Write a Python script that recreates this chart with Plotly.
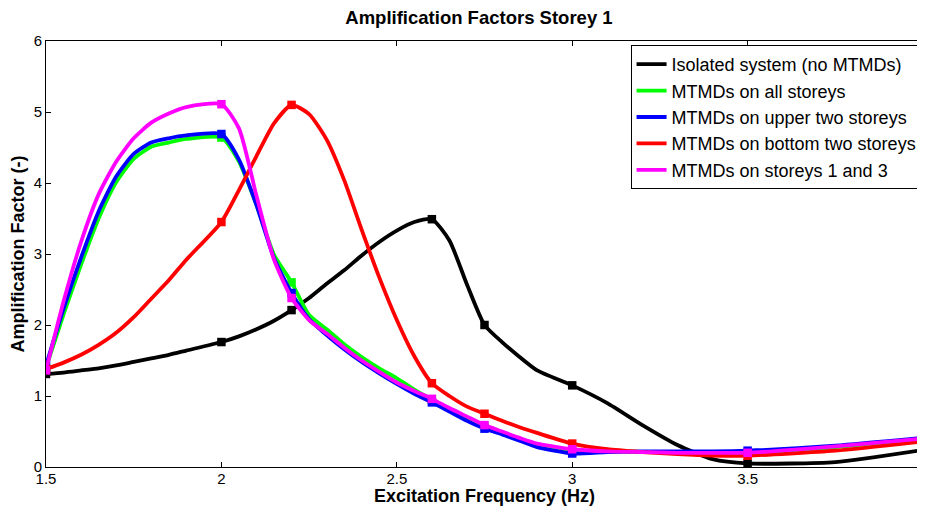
import plotly.graph_objects as go

# Excitation frequency grid (Hz)
freq = [1.5, 1.55, 1.6, 1.65, 1.7, 1.75, 1.8, 1.85, 1.9, 2.0, 2.05, 2.1, 2.15, 2.2,
        2.25, 2.3, 2.35, 2.4, 2.45, 2.5, 2.55, 2.6, 2.65, 2.7, 2.75, 2.8, 2.85, 2.9,
        3.0, 3.1, 3.2, 3.3, 3.4, 3.5, 3.75, 4.0]
# Frequencies where markers are drawn
marker_freq = [1.5, 2.0, 2.2, 2.6, 2.75, 3.0, 3.5, 4.0]

isolated = [1.31, 1.33, 1.36, 1.39, 1.43, 1.48, 1.53, 1.58, 1.64, 1.76, 1.84, 1.94, 2.06, 2.21,
            2.38, 2.58, 2.77, 2.98, 3.17, 3.33, 3.45, 3.49, 3.19, 2.57, 2.00, 1.76, 1.55, 1.36,
            1.15, 0.90, 0.59, 0.31, 0.11, 0.05, 0.07, 0.24]
mtmd_all = [1.40, 2.15, 2.85, 3.50, 4.01, 4.34, 4.51, 4.57, 4.62, 4.64, 4.30, 3.69, 2.99, 2.60,
            2.14, 1.94, 1.73, 1.55, 1.39, 1.25, 1.09, 0.95, 0.82, 0.69, 0.57, 0.49, 0.40, 0.31,
            0.21, 0.21, 0.21, 0.21, 0.20, 0.20, 0.28, 0.40]
mtmd_upper = [1.43, 2.23, 2.95, 3.60, 4.09, 4.41, 4.57, 4.63, 4.67, 4.69, 4.33, 3.69, 2.94, 2.45,
              2.08, 1.86, 1.66, 1.48, 1.32, 1.17, 1.03, 0.91, 0.78, 0.65, 0.54, 0.46, 0.37, 0.28,
              0.19, 0.21, 0.22, 0.22, 0.22, 0.23, 0.30, 0.41]
mtmd_bottom = [1.38, 1.47, 1.58, 1.72, 1.89, 2.11, 2.37, 2.63, 2.92, 3.45, 3.90, 4.38, 4.84, 5.10,
               4.97, 4.61, 4.04, 3.34, 2.67, 2.07, 1.56, 1.18, 1.00, 0.85, 0.75, 0.65, 0.56, 0.48,
               0.33, 0.25, 0.21, 0.18, 0.16, 0.16, 0.23, 0.36]
mtmd_13 = [1.36, 2.33, 3.17, 3.84, 4.30, 4.63, 4.85, 4.98, 5.07, 5.11, 4.77, 3.82, 2.92, 2.38,
           2.07, 1.88, 1.68, 1.50, 1.34, 1.19, 1.07, 0.96, 0.83, 0.71, 0.59, 0.50, 0.41, 0.33,
           0.25, 0.22, 0.21, 0.20, 0.20, 0.20, 0.29, 0.40]

names = ["Isolated system (no MTMDs)", "MTMDs on all storeys",
         "MTMDs on upper two storeys", "MTMDs on bottom two storeys",
         "MTMDs on storeys 1 and 3"]
series = [isolated, mtmd_all, mtmd_upper, mtmd_bottom, mtmd_13]
colors = ["#000000", "#00ff00", "#0000ff", "#ff0000", "#ff00ff"]

x_ticks = [1.5, 2, 2.5, 3, 3.5, 4]
x_tick_text = ["1.5", "2", "2.5", "3", "3.5", "4"]
y_ticks = [0, 1, 2, 3, 4, 5, 6]

fig = go.Figure()
for name, ys, c in zip(names, series, colors):
    fig.add_trace(go.Scatter(x=freq, y=ys, mode="lines", name=name,
                             line=dict(color=c, width=3.8, shape="spline", smoothing=0.6)))
    mx = [f for f in freq if f in marker_freq]
    my = [v for f, v in zip(freq, ys) if f in marker_freq]
    fig.add_trace(go.Scatter(x=mx, y=my, mode="markers", showlegend=False,
                             marker=dict(color=c, size=8.5, symbol="square"),
                             hoverinfo="skip"))

font = "Arial, Liberation Sans, sans-serif"
fig.update_layout(
    width=917, height=498,
    margin=dict(l=38, r=2, t=33, b=39, autoexpand=False),
    paper_bgcolor="white", plot_bgcolor="white",
    font=dict(family=font, color="black", size=15),
    title=dict(text="<b>Amplification Factors Storey 1</b>", x=0.5136, xanchor="center",
               y=0.98, yanchor="middle", font=dict(size=18.5, family=font, color="black")),
    legend=dict(x=0.9995, xanchor="right", y=0.9906, yanchor="top",
                bgcolor="white", bordercolor="black", borderwidth=1,
                font=dict(size=18, family=font, color="black"),
                itemwidth=30, tracegroupgap=0),
    showlegend=True,
)
fig.update_xaxes(range=[1.5, 4], tickvals=x_ticks, ticktext=x_tick_text,
                 showline=True, linecolor="black", linewidth=1, mirror="ticks",
                 ticks="inside", ticklen=5, tickcolor="black", showgrid=False, zeroline=False,
                 tickfont=dict(size=15), automargin=False, ticklabelstandoff=-2,
                 title=dict(text="<b>Excitation Frequency (Hz)</b>", standoff=0,
                            font=dict(size=18)))
fig.update_yaxes(range=[0, 6], tickvals=y_ticks,
                 showline=True, linecolor="black", linewidth=1, mirror="ticks",
                 ticks="inside", ticklen=5, tickcolor="black", showgrid=False, zeroline=False,
                 tickfont=dict(size=15), automargin=False,
                 title=dict(text="<b>Amplification Factor (-)</b>", standoff=4,
                            font=dict(size=18)))

fig.write_html("out.html")
